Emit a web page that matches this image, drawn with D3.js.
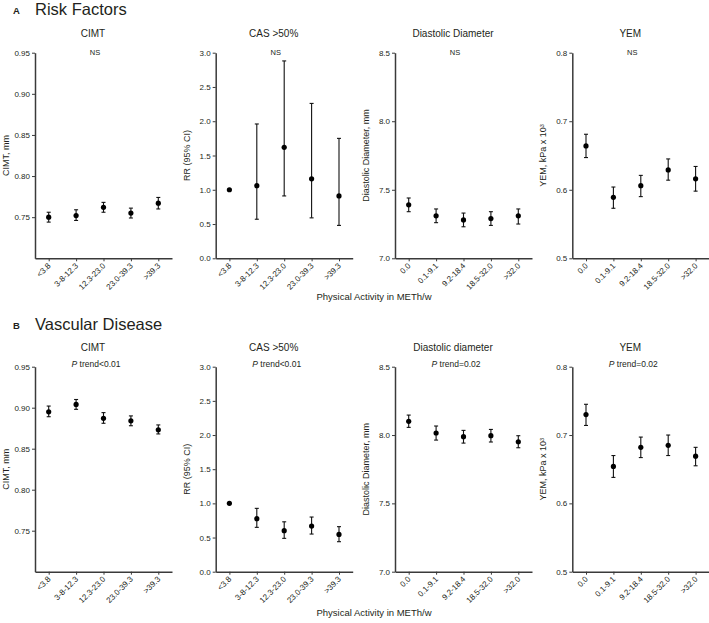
<!DOCTYPE html>
<html><head><meta charset="utf-8">
<script src="https://cdn.jsdelivr.net/npm/d3@7"></script>
<style>
body{margin:0;background:#fff;}
svg{display:block;font-family:"Liberation Sans",Arial,sans-serif;}
</style></head>
<body><svg id="c" width="709" height="623"></svg>
<script>
// ---- categories ----
const catsMET = ["<3.8","3-8-12.3","12.3-23.0","23.0-39.3",">39.3"];
const catsMET2 = ["0.0","0.1-9.1","9.2-18.4","18.5-32.0",">32.0"];

// ---- Panel A: Risk Factors ----
const aCimtMean = [0.750,0.752,0.762,0.755,0.767];
const aCimtLo   = [0.744,0.746,0.756,0.749,0.760];
const aCimtHi   = [0.756,0.759,0.768,0.761,0.774];

const aCasMean = [1.00,1.06,1.62,1.16,0.91];
const aCasLo   = [null,0.57,0.91,0.59,0.48];
const aCasHi   = [null,1.96,2.88,2.26,1.75];

const aDiaMean = [7.39,7.31,7.28,7.29,7.31];
const aDiaLo   = [7.34,7.26,7.23,7.24,7.25];
const aDiaHi   = [7.44,7.36,7.33,7.34,7.36];

const aYemMean = [0.664,0.589,0.606,0.629,0.616];
const aYemLo   = [0.647,0.573,0.590,0.614,0.598];
const aYemHi   = [0.681,0.604,0.621,0.645,0.634];

// ---- Panel B: Vascular Disease ----
const bCimtMean = [0.895,0.904,0.887,0.884,0.873];
const bCimtLo   = [0.889,0.898,0.881,0.878,0.868];
const bCimtHi   = [0.902,0.910,0.894,0.890,0.879];

const bCasMean = [1.00,0.776,0.600,0.668,0.546];
const bCasLo   = [null,0.649,0.488,0.551,0.439];
const bCasHi   = [null,0.927,0.730,0.800,0.659];

const bDiaMean = [8.100,8.015,7.988,7.995,7.951];
const bDiaLo   = [8.056,7.963,7.941,7.949,7.907];
const bDiaHi   = [8.146,8.066,8.034,8.041,7.995];

const bYemMean = [0.730,0.654,0.682,0.685,0.669];
const bYemLo   = [0.714,0.638,0.667,0.670,0.655];
const bYemHi   = [0.745,0.670,0.697,0.700,0.682];

// ---- axis ticks ----
const cimtTicks = [0.75,0.80,0.85,0.90,0.95];
const casTicks  = [0.0,0.5,1.0,1.5,2.0,2.5,3.0];
const diaTicks  = [7.0,7.5,8.0,8.5];
const yemTicks  = [0.5,0.6,0.7,0.8];

const svg = d3.select("#c");
const ink = "#231f20";
const axisCol = "#3a3a3a";

const colX = [35, 215.7, 395, 572.3];
const plotW = 137;
const rows = [
  {top:52.7, bottom:258.3, head:"Risk Factors", letter:"A", headY:15, titleY:37, noteY:55, xlabY:300,
   panels:[
    {title:"CIMT", ytitle:"CIMT, mm", dom:[0.70,0.95], ticks:cimtTicks, fmt:".2f", cats:catsMET, m:aCimtMean, lo:aCimtLo, hi:aCimtHi},
    {title:"CAS >50%", ytitle:"RR (95% CI)", dom:[0,3], ticks:casTicks, fmt:".1f", cats:catsMET, m:aCasMean, lo:aCasLo, hi:aCasHi},
    {title:"Diastolic Diameter", ytitle:"Diastolic Diameter, mm", dom:[7,8.5], ticks:diaTicks, fmt:".1f", cats:catsMET2, m:aDiaMean, lo:aDiaLo, hi:aDiaHi},
    {title:"YEM", ytitle:"YEM", dom:[0.5,0.8], ticks:yemTicks, fmt:".1f", cats:catsMET2, m:aYemMean, lo:aYemLo, hi:aYemHi}
   ], note:["NS","NS","NS","NS"]},
  {top:366.7, bottom:571.7, head:"Vascular Disease", letter:"B", headY:330, titleY:351, noteY:366.5, xlabY:616,
   panels:[
    {title:"CIMT", ytitle:"CIMT, mm", dom:[0.70,0.95], ticks:cimtTicks, fmt:".2f", cats:catsMET, m:bCimtMean, lo:bCimtLo, hi:bCimtHi},
    {title:"CAS >50%", ytitle:"RR (95% CI)", dom:[0,3], ticks:casTicks, fmt:".1f", cats:catsMET, m:bCasMean, lo:bCasLo, hi:bCasHi},
    {title:"Diastolic diameter", ytitle:"Diastolic Diameter, mm", dom:[7,8.5], ticks:diaTicks, fmt:".1f", cats:catsMET2, m:bDiaMean, lo:bDiaLo, hi:bDiaHi},
    {title:"YEM", ytitle:"YEM", dom:[0.5,0.8], ticks:yemTicks, fmt:".1f", cats:catsMET2, m:bYemMean, lo:bYemLo, hi:bYemHi}
   ], note:["<0.01","<0.01","=0.02","=0.02"]}
];

rows.forEach((row, ri) => {
  // section heading
  svg.append("text").attr("x",13).attr("y",row.headY - 1).attr("font-size",9.5).attr("font-weight","bold")
     .attr("fill",ink).text(row.letter);
  svg.append("text").attr("x",35).attr("y",row.headY).attr("font-size",16.5).attr("fill",ink).text(row.head);

  // x label
  svg.append("text").attr("x",374).attr("y",row.xlabY).attr("text-anchor","middle")
     .attr("font-size",9.5).attr("fill",ink).text("Physical Activity in METh/w");

  row.panels.forEach((p, pi) => {
    const x0 = colX[pi];
    const x = d3.scalePoint().domain(p.cats).range([x0, x0 + plotW]).padding(0.5);
    const y = d3.scaleLinear().domain(p.dom).range([row.bottom, row.top]);
    const g = svg.append("g");

    // y axis
    const ya = g.append("g").attr("transform",`translate(${x0},0)`)
      .call(d3.axisLeft(y).tickValues(p.ticks).tickFormat(d3.format(p.fmt)).tickSize(3).tickSizeOuter(0).tickPadding(2));
    // x axis
    const xa = g.append("g").attr("transform",`translate(0,${row.bottom})`)
      .call(d3.axisBottom(x).tickSize(3).tickSizeOuter(0));
    [ya, xa].forEach(a => {
      a.select(".domain").attr("stroke",axisCol).attr("stroke-width",1.5);
      a.selectAll(".tick line").attr("stroke",axisCol).attr("stroke-width",1);
      a.selectAll("text").attr("fill",ink).attr("font-size",8).attr("font-family","Liberation Sans, Arial, sans-serif");
    });
    xa.selectAll(".tick text")
      .attr("text-anchor","end").attr("dy",null).attr("y",null)
      .attr("transform","translate(2,8) rotate(-45)");

    // y title
    const yt = g.append("text").attr("transform",`translate(${x0 - 29},${(row.top+row.bottom)/2}) rotate(-90)`)
      .attr("text-anchor","middle").attr("dy","0.35em").attr("font-size",9).attr("fill",ink);
    if (p.ytitle === "YEM") {
      yt.append("tspan").text("YEM, kPa x 10");
      yt.append("tspan").attr("dy","-0.45em").attr("font-size",5.5).text("3");
    } else yt.text(p.ytitle);

    // title
    g.append("text").attr("x",x0 + 58).attr("y",row.titleY).attr("text-anchor","middle")
     .attr("font-size",10).attr("fill",ink).text(p.title);
    // note
    if (ri === 0) {
      g.append("text").attr("x",x0 + 60).attr("y",row.noteY).attr("text-anchor","middle")
       .attr("font-size",7.5).attr("fill",ink).text(row.note[pi]);
    } else {
      const t = g.append("text").attr("x",x0 + 61).attr("y",row.noteY).attr("text-anchor","middle")
       .attr("font-size",8.5).attr("fill",ink);
      t.append("tspan").attr("font-style","italic").text("P");
      t.append("tspan").text(" trend" + row.note[pi]);
    }

    // data
    const data = p.cats.map((c,i) => ({c, m:p.m[i], lo:p.lo[i], hi:p.hi[i]}));
    const eb = data.filter(d => d.lo != null);
    g.selectAll(".eb").data(eb).enter().append("line")
      .attr("x1",d=>x(d.c)).attr("x2",d=>x(d.c)).attr("y1",d=>y(d.lo)).attr("y2",d=>y(d.hi))
      .attr("stroke","#111").attr("stroke-width",1.1);
    ["lo","hi"].forEach(k => {
      g.selectAll(".cap"+k).data(eb).enter().append("line")
        .attr("x1",d=>x(d.c)-2).attr("x2",d=>x(d.c)+2).attr("y1",d=>y(d[k])).attr("y2",d=>y(d[k]))
        .attr("stroke","#111").attr("stroke-width",1.1);
    });
    g.selectAll(".pt").data(data).enter().append("circle")
      .attr("cx",d=>x(d.c)).attr("cy",d=>y(d.m)).attr("r",2.6).attr("fill","#000");
  });
});
</script>
</body></html>
